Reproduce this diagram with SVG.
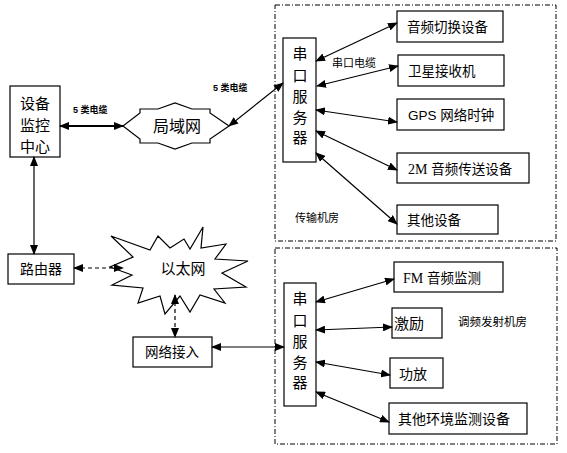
<svg xmlns="http://www.w3.org/2000/svg" width="567" height="453" viewBox="0 0 567 453">
<style>
.box{fill:#fff;stroke:#000;stroke-width:1.2}
.zone{fill:none;stroke:#000;stroke-width:1;stroke-dasharray:5,2,1,2}
.t{font-family:"Liberation Sans","Noto Sans CJK SC",sans-serif;fill:#000}
.s{font-family:"Liberation Serif","Noto Sans CJK SC",serif}
.c{stroke:#000;stroke-width:1.2;fill:none;marker-start:url(#ah);marker-end:url(#ah)}
.d{stroke-dasharray:4,3}
.lbl{font-family:"Liberation Sans","Noto Sans CJK SC",sans-serif;font-size:9px;font-weight:bold;fill:#000}
</style>
<defs>
<marker id="ah" viewBox="0 0 10 8" refX="9" refY="4" markerWidth="10" markerHeight="8" markerUnits="userSpaceOnUse" orient="auto-start-reverse">
<path d="M0,0 L10,4 L0,8 Z" fill="#000"/>
</marker>
</defs>
<rect width="567" height="453" fill="#fff"/>

<rect class="zone" x="275" y="5" width="281" height="236"/>
<rect class="zone" x="275" y="248" width="282" height="196"/>

<g id="center">
<rect class="box" x="10" y="86" width="50" height="71"/>
<text class="t" x="35" y="109" font-size="15" text-anchor="middle">设备</text>
<text class="t" x="35" y="131" font-size="15" text-anchor="middle">监控</text>
<text class="t" x="35" y="152" font-size="15" text-anchor="middle">中心</text>
</g>

<g id="lan">
<path class="box" d="M123,126 L140,113 L140,109 L158,109 L175,103 L192,109 L210,109 L210,113 L229,126 L210,139 L210,143 L192,143 L175,149 L158,143 L140,143 L140,139 Z"/>
<text class="t" x="177" y="132" font-size="16" text-anchor="middle">局域网</text>
</g>

<g id="router">
<rect class="box" x="8" y="254" width="66" height="30"/>
<text class="t" x="41" y="274" font-size="14" text-anchor="middle">路由器</text>
</g>

<g id="ethernet">
<path class="box" d="M111,236 L150,250 L158,236 L170,248 L184,239 L190,249 L203,227 L201,248 L226,244 L215,259 L248,261 L222,273 L246,287 L214,289 L225,303 L200,295 L190,312 L180,296 L165,314 L160,296 L138,303 L143,288 L112,285 L132,275 L110,267 L133,257 Z"/>
<text class="t" x="183" y="274" font-size="15" text-anchor="middle">以太网</text>
</g>

<g id="access">
<rect class="box" x="133" y="337" width="79" height="30"/>
<text class="t" x="172" y="357" font-size="13.5" text-anchor="middle">网络接入</text>
</g>

<g id="server1">
<rect class="box" x="283" y="38" width="33" height="124"/>
<text class="t" x="300" y="59" font-size="15" text-anchor="middle">串</text>
<text class="t" x="300" y="81" font-size="15" text-anchor="middle">口</text>
<text class="t" x="300" y="102" font-size="15" text-anchor="middle">服</text>
<text class="t" x="300" y="123" font-size="15" text-anchor="middle">务</text>
<text class="t" x="300" y="143" font-size="15" text-anchor="middle">器</text>
</g>

<g id="server2">
<rect class="box" x="284" y="283" width="32" height="123"/>
<text class="t" x="300" y="304" font-size="15" text-anchor="middle">串</text>
<text class="t" x="300" y="326" font-size="15" text-anchor="middle">口</text>
<text class="t" x="300" y="347" font-size="15" text-anchor="middle">服</text>
<text class="t" x="300" y="368" font-size="15" text-anchor="middle">务</text>
<text class="t" x="300" y="388" font-size="15" text-anchor="middle">器</text>
</g>

<g id="audioswitch">
<rect class="box" x="397" y="11" width="106" height="31"/>
<text class="t" x="407" y="32" font-size="13.5">音频切换设备</text>
</g>
<g id="satellite">
<rect class="box" x="398" y="55" width="106" height="31"/>
<text class="t" x="408" y="76" font-size="13.5">卫星接收机</text>
</g>
<g id="gps">
<rect class="box" x="397" y="99" width="107" height="31"/>
<text class="t" x="408" y="120" font-size="13.5">GPS 网络时钟</text>
</g>
<g id="audio2m">
<rect class="box" x="397" y="153" width="132" height="30"/>
<text class="t" x="408" y="174" font-size="13.5"><tspan class="s" font-size="14">2M</tspan> 音频传送设备</text>
</g>
<g id="other1">
<rect class="box" x="397" y="205" width="101" height="29"/>
<text class="t" x="407" y="225" font-size="13.5">其他设备</text>
</g>

<g id="fm">
<rect class="box" x="394" y="262" width="109" height="30"/>
<text class="t" x="403" y="283" font-size="13.5"><tspan class="s" font-size="14">FM</tspan> 音频监测</text>
</g>
<g id="exciter">
<rect class="box" x="392" y="308" width="50" height="30"/>
<text class="t" x="394" y="329" font-size="15">激励</text>
</g>
<g id="amp">
<rect class="box" x="390" y="358" width="53" height="30"/>
<text class="t" x="399" y="379" font-size="14">功放</text>
</g>
<g id="other2">
<rect class="box" x="389" y="403" width="138" height="31"/>
<text class="t" x="398" y="424" font-size="14">其他环境监测设备</text>
</g>

<g id="labels">
<text class="lbl" x="73" y="113">5 类电缆</text>
<text class="lbl" x="213" y="91">5 类电缆</text>
<text class="t" x="332" y="67" font-size="11">串口电缆</text>
<text class="t" x="295" y="222" font-size="11">传输机房</text>
<text class="t" x="458" y="326" font-size="11.5">调频发射机房</text>
</g>

<g id="connectors">
<line class="c" x1="60" y1="126" x2="123" y2="126" style="stroke-width:2.2"/>
<line class="c" x1="229" y1="126" x2="283" y2="83"/>
<line class="c" x1="34" y1="157" x2="34" y2="254"/>
<line class="c d" x1="74" y1="268" x2="123" y2="268"/>
<line class="c d" x1="175" y1="295" x2="175" y2="337"/>
<line class="c" x1="212" y1="347" x2="284" y2="347"/>
<line class="c" x1="316" y1="61" x2="397" y2="23"/>
<line class="c" x1="317" y1="86" x2="398" y2="66"/>
<line class="c" x1="316" y1="110" x2="397" y2="122"/>
<line class="c" x1="316" y1="131" x2="397" y2="170"/>
<line class="c" x1="316" y1="153" x2="397" y2="224"/>
<line class="c" x1="316" y1="302" x2="394" y2="279"/>
<line class="c" x1="316" y1="330" x2="392" y2="327"/>
<line class="c" x1="316" y1="362" x2="390" y2="375"/>
<line class="c" x1="316" y1="392" x2="389" y2="422"/>
</g>
</svg>
